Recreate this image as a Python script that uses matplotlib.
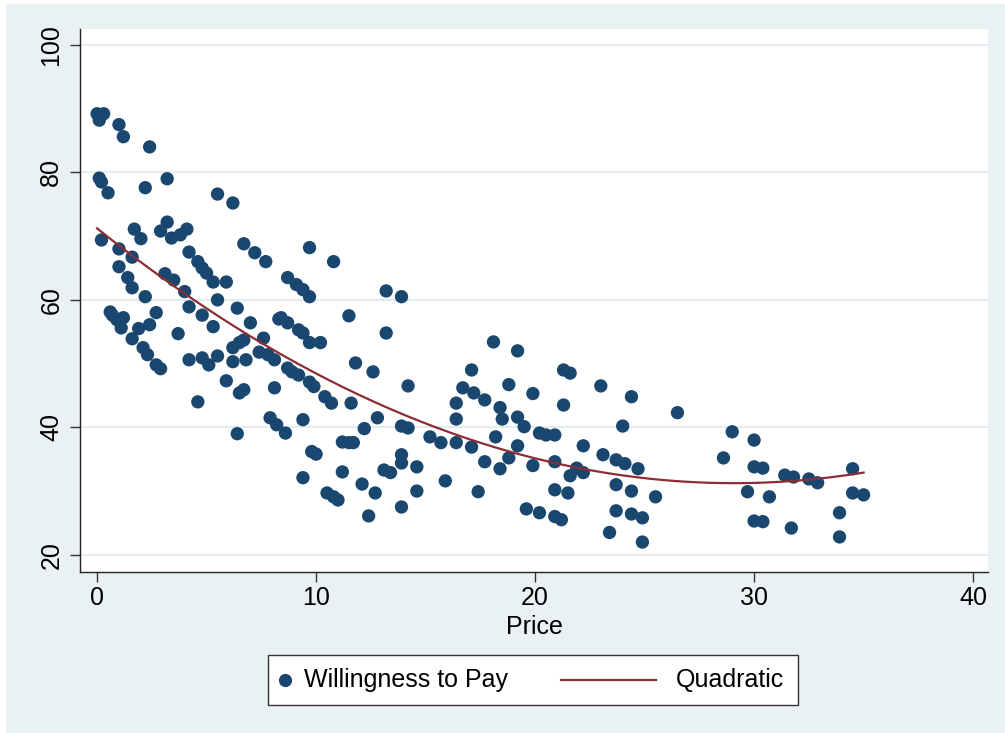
import numpy as np
import matplotlib
matplotlib.use("Agg")
import matplotlib.pyplot as plt
from matplotlib.patches import Rectangle
from matplotlib.lines import Line2D

plt.rcParams['font.family'] = ['Liberation Sans', 'DejaVu Sans']

# price and willingness-to-pay observations
price = [
    0.0, 0.3, 0.1, 1.0, 1.2, 2.4, 0.1, 0.2, 0.5, 2.2, 3.2, 5.5, 6.2,
    1.7, 2.0, 2.9, 3.2, 3.4, 3.8, 4.1, 0.2, 1.0, 1.6, 1.0, 4.2, 4.6, 4.8,
    5.0, 5.3, 5.9, 6.7, 7.2, 7.7, 3.1, 3.5, 1.4, 1.6, 2.2, 4.0, 5.5,
    0.6, 0.7, 0.9, 1.2, 1.1, 1.6, 1.9, 2.4, 2.7, 2.1, 2.3, 2.7, 2.9, 3.7,
    4.2, 4.8, 5.3, 6.4, 7.0, 7.6, 8.3, 4.2, 4.8, 5.1, 5.5, 6.2, 6.5, 6.7,
    6.2, 6.8, 7.4, 7.8, 8.1, 5.9, 6.5, 6.7, 4.6, 8.1, 7.9, 8.2, 6.4,
    9.7, 10.8, 8.7, 9.1, 9.4, 9.7, 13.2, 13.9, 11.5, 8.4, 8.7, 9.2, 9.4,
    9.7, 10.2, 13.2,
    8.7, 8.9, 9.2, 9.7, 9.9, 10.4, 10.7, 11.6, 11.8, 12.6, 14.2, 12.8,
    12.2, 13.9, 14.2, 15.2, 15.7, 8.6, 9.4, 11.2, 11.5, 11.7, 9.8, 10.0,
    9.4, 11.2, 12.1, 12.7, 13.1, 13.4, 13.9, 13.9, 14.6, 14.6, 10.5, 10.8,
    11.0, 12.4, 13.9, 15.9,
    18.1, 19.2, 17.1, 16.7, 17.2, 17.7, 16.4, 16.4, 18.8, 19.9, 18.4, 18.5,
    19.2, 19.5, 20.2, 20.5, 20.9, 21.3, 21.6, 21.3, 23.0, 24.4, 24.0, 26.5,
    16.4, 17.1, 18.2, 19.2, 18.8, 17.7, 18.4, 19.9, 20.9, 21.9, 22.2, 21.6,
    22.2, 23.1, 23.7, 24.1, 24.7, 23.7, 24.4, 25.5, 17.4, 20.9, 21.5, 19.6,
    20.2, 20.9, 21.2, 23.7, 24.4, 24.9, 23.4, 24.9,
    29.0, 30.0, 28.6, 30.0, 30.4, 31.4, 31.8, 32.5, 32.9, 34.5, 34.5, 35.0,
    29.7, 30.7, 30.0, 30.4, 31.7, 33.9, 33.9,
]
wtp = [
    89.2, 89.2, 88.2, 87.5, 85.6, 84.0, 79.1, 78.5, 76.8, 77.6, 79.0, 76.6, 75.2,
    71.1, 69.6, 70.8, 72.2, 69.7, 70.2, 71.1, 69.4, 68.0, 66.7, 65.2, 67.5, 66.0, 65.0,
    64.2, 62.8, 62.8, 68.8, 67.4, 66.0, 64.1, 63.1, 63.5, 61.9, 60.5, 61.3, 60.0,
    58.1, 57.6, 56.9, 57.2, 55.6, 53.9, 55.5, 56.1, 58.0, 52.5, 51.4, 49.8, 49.2, 54.7,
    58.9, 57.6, 55.8, 58.7, 56.4, 54.0, 57.0, 50.6, 50.9, 49.8, 51.2, 52.5, 53.3, 53.7,
    50.3, 50.6, 51.8, 51.4, 50.6, 47.3, 45.4, 45.9, 44.0, 46.2, 41.5, 40.4, 39.0,
    68.2, 66.0, 63.5, 62.4, 61.6, 60.5, 61.4, 60.5, 57.5, 57.2, 56.4, 55.3, 54.8,
    53.3, 53.3, 54.8,
    49.3, 48.7, 48.2, 47.1, 46.4, 44.8, 43.8, 43.8, 50.1, 48.7, 46.5, 41.5,
    39.8, 40.2, 39.9, 38.5, 37.6, 39.1, 41.2, 37.7, 37.6, 37.6, 36.2, 35.8,
    32.1, 33.0, 31.1, 29.7, 33.3, 32.9, 35.7, 34.4, 33.8, 30.0, 29.7, 29.1,
    28.6, 26.1, 27.5, 31.6,
    53.4, 52.0, 49.0, 46.2, 45.4, 44.3, 43.8, 41.3, 46.7, 45.3, 43.1, 41.3,
    41.6, 40.1, 39.1, 38.8, 38.8, 49.0, 48.5, 43.5, 46.5, 44.8, 40.2, 42.3,
    37.6, 36.9, 38.5, 37.1, 35.2, 34.6, 33.5, 34.0, 34.6, 33.6, 37.1, 32.4,
    32.9, 35.7, 34.9, 34.3, 33.5, 31.0, 30.0, 29.1, 29.9, 30.2, 29.7, 27.2,
    26.6, 26.0, 25.5, 26.9, 26.4, 25.8, 23.5, 22.0,
    39.3, 38.0, 35.2, 33.8, 33.6, 32.5, 32.2, 31.9, 31.3, 33.5, 29.7, 29.4,
    29.9, 29.1, 25.3, 25.2, 24.2, 26.6, 22.8,
]
xticks = [0, 10, 20, 30, 40]
yticks = [20, 40, 60, 80, 100]

navy = '#1a476f'
maroon = '#8c2d33'
bg = '#eaf1f3'

fig = plt.figure(figsize=(10.05, 7.33), dpi=100)
fig.patch.set_facecolor('white')
fig.add_artist(Rectangle((6 / 1005, 0), 1, 1 - 4 / 733, transform=fig.transFigure,
                         facecolor=bg, edgecolor='none', zorder=-10))

ax = fig.add_axes([80 / 1005, 1 - 572 / 733, 908 / 1005, 543 / 733])
ax.set_facecolor('white')

# quadratic fit of wtp on price
coef = np.polyfit(price, wtp, 2)
xs = np.linspace(min(price), max(price), 200)

ax.scatter(price, wtp, s=92, color=navy, edgecolors='none', zorder=3)
ax.plot(xs, np.polyval(coef, xs), color=maroon, lw=1.6, zorder=4)

ax.set_xlim(-0.78, 40.68)
ax.set_ylim(17.3, 102.5)
ax.set_xticks(xticks)
ax.set_yticks(yticks)
ax.yaxis.grid(True, color='#e2ebee', lw=1.4)
ax.set_axisbelow(True)
for s in ['top', 'right']:
    ax.spines[s].set_visible(False)
for s in ['left', 'bottom']:
    ax.spines[s].set_linewidth(1.0)
    ax.spines[s].set_color('#222222')
ax.tick_params(axis='both', labelsize=18, length=7, width=1, color='#333333')
ax.tick_params(axis='y', labelrotation=90, pad=5)
ax.tick_params(axis='x', pad=3)
for t in ax.get_yticklabels():
    t.set_va('center')
ax.set_xlabel('Price', fontsize=18, labelpad=4)

# legend box below the plot
def fx(px):
    return px / 1005

def fy(py):
    return 1 - py / 733

fig.add_artist(Rectangle((fx(268), fy(705)), fx(530), 50 / 733, transform=fig.transFigure,
                         facecolor='white', edgecolor='#333333', lw=1.0))
ly = fy(680)
fig.add_artist(Line2D([fx(285)], [ly], marker='o', markersize=9.5, color=navy,
                      markeredgecolor='none', transform=fig.transFigure))
fig.text(fx(304), ly, 'Willingness to Pay', fontsize=18, va='center', ha='left')
fig.add_artist(Line2D([fx(561), fx(656)], [ly, ly], color=maroon, lw=1.6,
                      transform=fig.transFigure))
fig.text(fx(676), ly, 'Quadratic', fontsize=18, va='center', ha='left')

fig.savefig('out.png', dpi=100, facecolor=fig.get_facecolor())
